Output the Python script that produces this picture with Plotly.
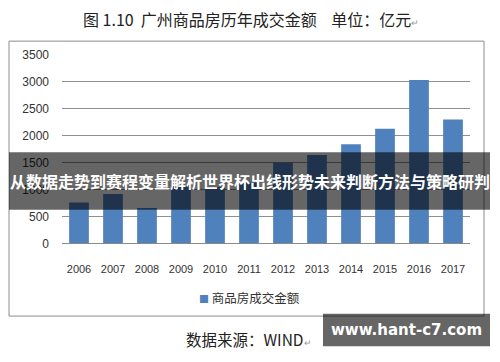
import plotly.graph_objects as go

years = ["2006", "2007", "2008", "2009", "2010", "2011", "2012", "2013", "2014", "2015", "2016", "2017"]
amounts = [760, 920, 660, 1080, 1050, 1130, 1500, 1640, 1840, 2130, 3030, 2300]
series_name = "商品房成交金额"
y_ticks = [0, 500, 1000, 1500, 2000, 2500, 3000, 3500]

W, H = 500, 362
def px(x):
    return x / W
def py(y):
    return 1 - y / H

fig = go.Figure()
fig.add_trace(go.Bar(
    x=years, y=amounts, name=series_name,
    marker=dict(color="#4F81BD", line=dict(width=0)),
    showlegend=False,
))

fig.update_layout(
    width=W, height=H,
    margin=dict(l=0, r=0, t=0, b=0),
    paper_bgcolor="white", plot_bgcolor="white",
    bargap=0.42,
    font=dict(family="Liberation Sans, Arial, sans-serif", color="#333333"),
    xaxis=dict(
        domain=[px(62), px(470)],
        tickfont=dict(size=11, color="#333333"),
        showgrid=False, showline=True, linecolor="#8a8a8a", linewidth=1,
        ticks="", ticklabelstandoff=15,
    ),
    yaxis=dict(
        domain=[py(246), py(49.7)],
        range=[0, 3500], tickvals=y_ticks,
        tickfont=dict(size=12, color="#333333"),
        showgrid=True, gridcolor="#8f8f8f", gridwidth=1,
        zeroline=False, showline=False, ticks="", ticklabelstandoff=12,
    ),
    shapes=[
        dict(type="rect", xref="paper", yref="paper",
             x0=px(9), x1=px(484), y0=py(321.5), y1=py(35.5),
             line=dict(color="#8c8c8c", width=1), fillcolor="rgba(0,0,0,0)", layer="below"),
        dict(type="rect", xref="paper", yref="paper",
             x0=px(9), x1=px(490), y0=py(211), y1=py(151),
             line=dict(width=0), fillcolor="rgba(0,0,0,0.6)", layer="above"),
        dict(type="rect", xref="paper", yref="paper",
             x0=px(323), x1=px(490), y0=py(353), y1=py(319),
             line=dict(width=0), fillcolor="rgba(0,0,0,0.6)", layer="above"),
    ],
    annotations=[
        dict(text="图 1.10  广州商品房历年成交金额    单位：亿元<span style='font-size:9px;color:#999'>↵</span>",
             xref="paper", yref="paper", x=px(251), y=py(13), showarrow=False,
             xanchor="center", yanchor="middle",
             font=dict(size=16, color="#222222", family="Noto Sans CJK SC")),
        dict(text="<span style='color:#4F81BD;font-size:10px'>■</span> " + series_name,
             xref="paper", yref="paper", x=px(197), y=py(302), showarrow=False,
             xanchor="left", yanchor="middle",
             font=dict(size=12.5, color="#333333", family="Noto Sans CJK SC")),
        dict(text="<b>从数据走势到赛程变量解析世界杯出线形势未来判断方法与策略研判</b>",
             xref="paper", yref="paper", x=px(250), y=py(181), showarrow=False,
             xanchor="center", yanchor="middle",
             font=dict(size=16, color="white", family="Noto Sans CJK SC")),
        dict(text="数据来源：WIND<span style='font-size:9px;color:#999'>↵</span>",
             xref="paper", yref="paper", x=px(184), y=py(345), showarrow=False,
             xanchor="left", yanchor="middle",
             font=dict(size=15.5, color="#222222", family="Noto Sans CJK SC")),
        dict(text="<b>www.hant-c7.com</b>",
             xref="paper", yref="paper", x=px(406), y=py(336), showarrow=False,
             xanchor="center", yanchor="middle",
             font=dict(size=15, color="white", family="DejaVu Sans")),
    ],
)

fig.write_html(
    "out.html",
    config={"displayModeBar": False},
    post_script="document.body.style.margin='0';document.body.style.overflow='hidden';",
)
